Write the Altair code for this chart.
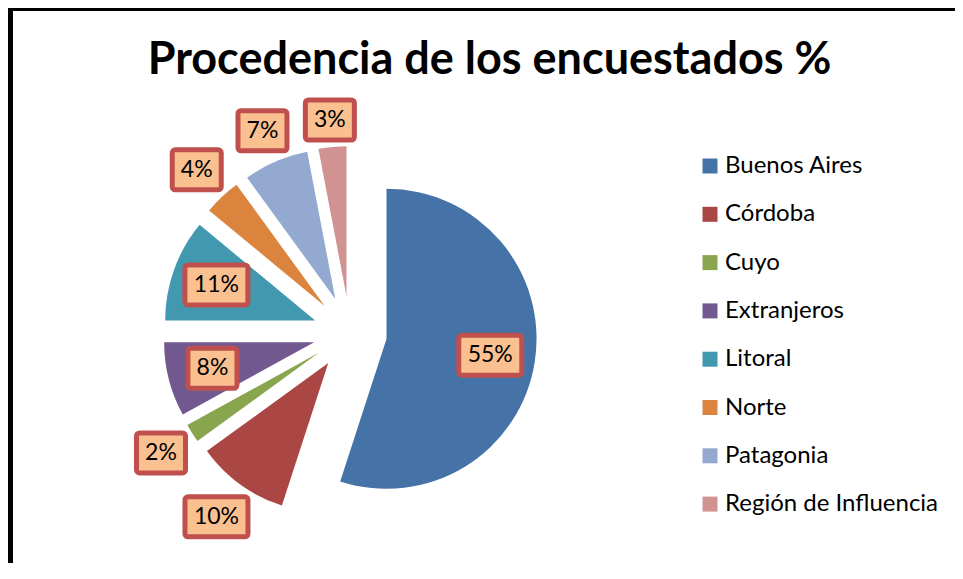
import json
import altair as alt
import pandas as pd

# ---- data ----
regions = ["Buenos Aires", "Córdoba", "Cuyo", "Extranjeros", "Litoral",
           "Norte", "Patagonia", "Región de Influencia"]
percentages = [55, 10, 2, 8, 11, 4, 7, 3]
colors = ["#4572A7", "#AA4643", "#89A54E", "#71588F", "#4198AF",
          "#DB843D", "#93A9CF", "#D19392"]
title_text = "Procedencia de los encuestados %"

# label placement style (Excel "best fit": some labels sit outside)
outside_labels = ["Córdoba", "Cuyo", "Norte", "Patagonia", "Región de Influencia"]

df = pd.DataFrame({"region": regions, "pct": percentages,
                   "order": list(range(len(regions)))})

# ---- layout ----
W, H = 947, 555          # view size (page margin 8px)
CX, CY = 342, 325        # pie centre inside the view
R = 150                  # pie radius
EXPLODE = 37             # explosion distance
INNER_R = 142            # inside label distance from centre
HALF_H = 20

xs = alt.Scale(domain=[-CX, W - CX], nice=False, zero=False)
ys = alt.Scale(domain=[-(H - CY), CY], nice=False, zero=False)

base = alt.Chart(df).transform_window(
    cum="sum(pct)", sort=[alt.SortField("order")], frame=[None, 0]
).transform_calculate(
    start="datum.cum - datum.pct",
    mid="(datum.cum - datum.pct / 2) / 100 * 2 * PI",
    ex=f"{EXPLODE} * sin(datum.mid)",
    ey=f"{EXPLODE} * cos(datum.mid)",
    label="datum.pct + '%'",
    hw="length(datum.label) * 7 + 10.5",
    isout=f"indexof({json.dumps(outside_labels, ensure_ascii=False)}, datum.region) >= 0",
    lr=(f"datum.isout ? {R + EXPLODE + 2} + (datum.hw + 2.5) * abs(sin(datum.mid))"
        f" + {HALF_H + 2.5} * abs(cos(datum.mid)) : {INNER_R}"),
    lx="datum.lr * sin(datum.mid)",
    ly="datum.lr * cos(datum.mid)",
    bx1="datum.lx - datum.hw",
    bx2="datum.lx + datum.hw",
    by1=f"datum.ly - {HALF_H}",
    by2=f"datum.ly + {HALF_H}",
)

legend = alt.Legend(
    orient="none", legendX=690, legendY=146, title=None,
    symbolType="square", symbolSize=225, symbolStrokeWidth=0,
    labelFont="Lato", labelFontSize=24, labelColor="black",
    labelOffset=3, labelLimit=400, rowPadding=24.3,
)

arcs = base.mark_arc(outerRadius=R).encode(
    x=alt.X("ex:Q", scale=xs, axis=None),
    y=alt.Y("ey:Q", scale=ys, axis=None),
    theta=alt.Theta("start:Q", scale=alt.Scale(domain=[0, 100]), stack=False),
    theta2="cum:Q",
    color=alt.Color("region:N", scale=alt.Scale(domain=regions, range=colors),
                    sort=regions, legend=legend),
)

boxes = base.mark_rect(fill="#FAC090", stroke="#C0504D", strokeWidth=5,
                       cornerRadius=3).encode(
    x=alt.X("bx1:Q", scale=xs, axis=None),
    x2="bx2:Q",
    y=alt.Y("by1:Q", scale=ys, axis=None),
    y2="by2:Q",
)

texts = base.mark_text(font="Lato", fontSize=23, color="black",
                       baseline="middle", align="center").encode(
    x=alt.X("lx:Q", scale=xs, axis=None),
    y=alt.Y("ly:Q", scale=ys, axis=None),
    text="label:N",
)

frame_data = alt.Data(values=[{"k": 1}])
left_border = alt.Chart(frame_data).mark_rule(color="black", strokeWidth=5).encode(
    x=alt.value(2.5), y=alt.value(0), y2=alt.value(H))
top_border = alt.Chart(frame_data).mark_rule(color="black", strokeWidth=3).encode(
    x=alt.value(0), x2=alt.value(W), y=alt.value(1.5))

chart = alt.layer(left_border, top_border, arcs, boxes, texts).properties(
    width=W, height=H, padding=0,
    autosize=alt.AutoSizeParams(type="none"),
    title=alt.TitleParams(
        text=title_text, font="Lato", fontSize=45, fontWeight="bold",
        color="black", anchor="middle", frame="group", orient="top",
        offset=0, dy=113, dx=8, baseline="alphabetic",
    ),
).configure_view(stroke=None).configure(background="white")

chart.save("out.html", embed_options={"renderer": "svg", "actions": False})
